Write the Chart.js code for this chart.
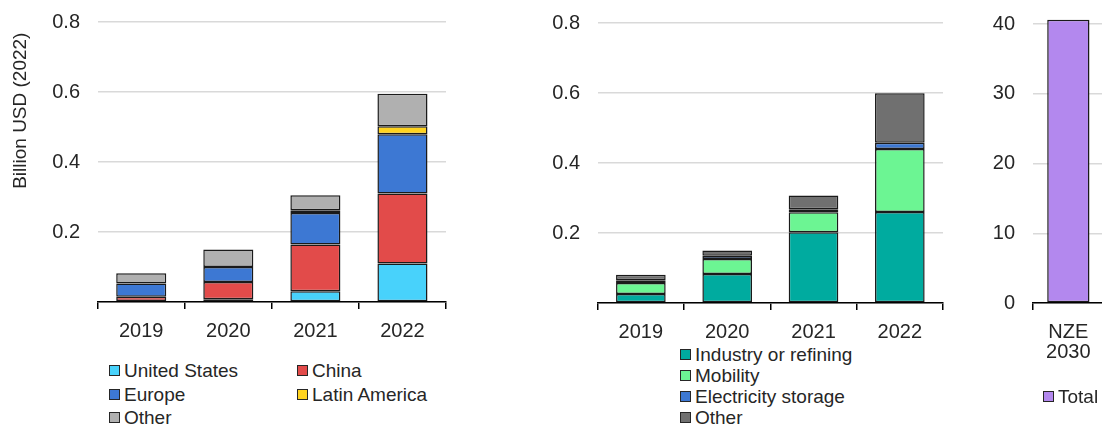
<!DOCTYPE html>
<html>
<head>
<meta charset="utf-8">
<script src="https://cdn.jsdelivr.net/npm/chart.js@4.4.1/dist/chart.umd.min.js"></script>
<style>
  body { margin: 0; width: 1102px; height: 426px; overflow: hidden; background: #fff; position: relative;
         font-family: "Liberation Sans", Arial, sans-serif; }
  canvas { position: absolute; top: 0; }
  .item { position: absolute; font-size: 19px; color: #262626; white-space: nowrap; line-height: 22px; height: 22px; }
  .item span.sq { display: inline-block; width: 9px; height: 9px; border: 1.5px solid #262626; margin-right: 4px; vertical-align: 1px; }
</style>
</head>
<body>
<canvas id="regiones" width="450" height="340" style="left:0px"></canvas>
<canvas id="sectores" width="447" height="341" style="left:500px"></canvas>
<canvas id="total" width="173" height="370" style="left:935px"></canvas>
<div id="leyendas"></div>
<script>
// datos (miles de millones USD 2022)
const years = ["2019", "2020", "2021", "2022"];

const regionNames = ["United States", "China", "Europe", "Latin America", "Other"];
const unitedStates = [0.003, 0.008, 0.031, 0.110];
const china = [0.012, 0.049, 0.133, 0.200];
const europe = [0.038, 0.043, 0.090, 0.169];
const latinAmerica = [null, null, 0.008, 0.023];
const otherRegion = [0.029, 0.050, 0.043, 0.093];

const sectorNames = ["Industry or refining", "Mobility", "Electricity storage", "Other"];
const industry = [0.026, 0.083, 0.202, 0.260];
const mobility = [0.031, 0.043, 0.057, 0.180];
const storage = [0.008, 0.009, 0.009, 0.018];
const otherSector = [0.016, 0.015, 0.039, 0.141];

const nzeLabels = [["NZE", "2030"]];
const nzeTotal = [40.6];

const regionColors = ["#48d2fb", "#e24b4a", "#3d78d3", "#ffd320", "#b0b0b0"];
const sectorColors = ["#00ab9f", "#6cf593", "#3d78d3", "#707070"];
const totalColor = "#b388ee";

const FONT = "'Liberation Sans', Arial, sans-serif";
const TEXT = "#262626";

function makeDatasets(names, series, colors) {
  return names.map((n, i) => ({
    label: n,
    data: series[i],
    backgroundColor: colors[i],
    borderColor: "#1a1a1a",
    borderWidth: 1.5,
    borderSkipped: false,
    barPercentage: 0.575,
    categoryPercentage: 1,
    clip: false
  }));
}

// crea un grafico de barras apiladas con el eje y de ancho fijo
function barChart(id, labels, datasets, yMax, yStep, showZero, title, topPad, bottomPad, xHeight) {
  return new Chart(document.getElementById(id), {
    type: "bar",
    data: { labels: labels, datasets: datasets },
    options: {
      responsive: false,
      animation: false,
      layout: { padding: { top: topPad, right: 4, bottom: bottomPad, left: 0 } },
      plugins: { legend: { display: false }, tooltip: { enabled: false } },
      scales: {
        x: {
          stacked: true,
          grid: { offset: true, drawOnChartArea: false, drawTicks: true, tickLength: 7, color: "#000", lineWidth: 1.5 },
          border: { color: "#000", width: 1.5 },
          ticks: { color: TEXT, font: { family: FONT, size: 20, lineHeight: 1.0 }, padding: 12, maxRotation: 0 },
          afterFit: s => { s.height = xHeight; }
        },
        y: {
          stacked: true,
          min: 0,
          max: yMax,
          grid: { color: "#d9d9d9", lineWidth: 1.5, drawTicks: false },
          border: { display: false },
          ticks: {
            stepSize: yStep,
            padding: 17.7,
            color: TEXT,
            font: { family: FONT, size: 20 },
            callback: v => (v === 0 && !showZero) ? "" : (yStep < 1 ? v.toFixed(1) : v)
          },
          title: { display: !!title, text: title, align: "end", color: TEXT, font: { family: FONT, size: 19 }, padding: { top: 9, bottom: 0 } },
          afterFit: s => { s.width = 97.7; s.paddingTop = 12; s.paddingBottom = 0; }
        }
      }
    }
  });
}

// los espacios finos bajan un poco el titulo, como en el original
barChart("regiones", years,
  makeDatasets(regionNames, [unitedStates, china, europe, latinAmerica, otherRegion], regionColors),
  0.8, 0.2, false, "Billion USD (2022)\u00a0\u00a0", 22, 0, 38);

barChart("sectores", years,
  makeDatasets(sectorNames, [industry, mobility, storage, otherSector], sectorColors),
  0.8, 0.2, false, "", 23, 0, 38);

const totalSet = makeDatasets(["Total"], [nzeTotal], [totalColor]);
totalSet[0].barPercentage = 0.593;
barChart("total", nzeLabels, totalSet, 40, 10, true, "", 24, 7, 60);

// leyendas en HTML
const leyendas = document.getElementById("leyendas");
function item(name, color, x, yc) {
  const d = document.createElement("div");
  d.className = "item";
  d.style.left = x + "px";
  d.style.top = (yc - 11) + "px";
  d.innerHTML = '<span class="sq" style="background:' + color + '"></span>' + name;
  leyendas.appendChild(d);
}
const regPos = [[109, 371], [297, 371], [109, 395], [297, 395], [109, 418]];
regionNames.forEach((n, i) => item(n, regionColors[i], regPos[i][0], regPos[i][1]));
const secY = [355, 376, 397, 418];
sectorNames.forEach((n, i) => item(n, sectorColors[i], 680, secY[i]));
item("Total", totalColor, 1043, 397);
</script>
</body>
</html>
